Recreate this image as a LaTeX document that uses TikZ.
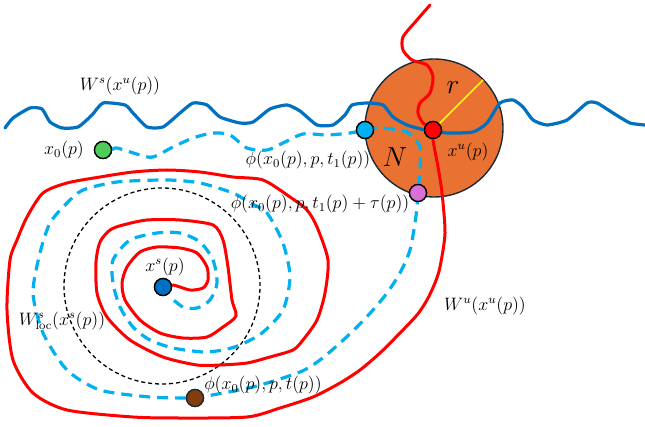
\documentclass[tikz,border=0pt]{standalone}
\usepackage{graphicx}
\usetikzlibrary{calc}
\definecolor{wblue}{HTML}{0070C0}
\definecolor{wcyan}{HTML}{00B0F0}
\definecolor{wred}{HTML}{FF0000}
\definecolor{worange}{HTML}{E97132}
\definecolor{wgreen}{HTML}{4FCB5B}
\definecolor{wpink}{HTML}{DA70D6}
\definecolor{wbrown}{HTML}{843C0C}
\definecolor{wyellow}{HTML}{FFFF00}
\definecolor{wnavy}{HTML}{1B2A38}
\newcommand\mylb[1]{\scalebox{1.5}{$#1$}}
\newcommand\mybig[1]{\scalebox{2.3}{$#1$}}
\begin{document}
\begin{tikzpicture}[x=1pt,y=-1pt,
  dot/.style={circle,draw=black,line width=1.3pt,minimum size=17pt,inner sep=0pt},
  redline/.style={draw=wred,line width=3pt,line join=round,line cap=round},
  blueline/.style={draw=wblue,line width=3.2pt,line join=round,line cap=round},
  traj/.style={draw=wcyan,line width=3.2pt,dash pattern=on 11pt off 7pt},
  lbl/.style={font=\fontsize{12}{14}\selectfont,inner sep=0pt}]
\useasboundingbox (0,0) rectangle (645,427);
% neighbourhood N
\node[circle,fill=worange,draw=wnavy,line width=1.4pt,minimum size=138pt,inner sep=0pt] (N) at (434,128) {};
% local stable manifold circle
\node[circle,draw=black,line width=1.3pt,dash pattern=on 4pt off 3pt,minimum size=196pt,inner sep=0pt] (loc) at (162,286) {};
% dots
\node[dot,fill=wgreen] (x0) at (103,150) {};
\node[dot,fill=wblue] (xs) at (163,287) {};
\node[dot,fill=wcyan] (p1) at (365,130) {};
\node[dot,fill=wred] (xu) at (433,130) {};
\node[dot,fill=wpink] (p2) at (418,193) {};
\node[dot,fill=wbrown,draw=wnavy] (p3) at (195,398) {};
% unstable manifold (red spiral)
\path[redline] plot[smooth,tension=0.45] coordinates {
 (430,5) (417,20) (403,37) (403,50) (412,60) (427,65) (433,77) (430,93) (420,103) (418,113) (423,123) (xu.center)
 (433,140) (438,167) (442,193) (445,233) (440,267) (435,283) (427,300) (417,315) (400,333) (380,353) (360,370) (340,383) (313,397) (280,408) (247,417) (180,418) (133,417) (67,410) (33,393) (13,360) (7,310) (10,260) (17,240) (27,217) (43,193) (67,183) (100,177) (133,172) (167,170) (200,172) (233,177) (263,180) (290,197) (307,210) (317,227) (328,260) (325,293) (317,320) (303,340) (293,350) (270,357) (247,363) (220,365) (197,365) (163,357) (130,340) (107,317) (97,293) (96,262) (100,242) (110,230) (123,225) (147,220) (180,220) (213,225) (223,240) (228,267) (232,300) (236,316) (223,327) (207,337) (183,338) (160,333) (140,320) (125,300) (122,283) (127,267) (140,252) (157,247) (180,248) (197,253) (207,267) (208,280) (203,288) (190,290) (173,285) (xs.center)};
% trajectory (dashed cyan)
\path[traj] plot[smooth,tension=0.45] coordinates {
 (x0.east) (117,148) (140,155) (153,157) (173,147) (193,138) (213,133) (230,135) (247,148) (267,150) (283,143) (303,134) (327,135) (350,133) (p1.center)
 (380,128) (407,132) (420,147) (420,167) (p2.center)
 (417,207) (415,223) (410,250) (400,273) (387,293) (373,310) (357,327) (340,343) (320,360) (300,372) (253,387) (p3.center)
 (187,398) (150,397) (100,390) (67,370) (43,333) (33,293) (40,253) (50,223) (67,203) (83,190) (117,182) (167,180) (200,183) (233,193) (250,203) (267,213) (283,243) (290,277) (283,310) (262,333) (240,345) (223,350) (203,352) (173,348) (150,340) (133,327) (120,307) (113,283) (113,260) (130,240) (157,233) (180,233) (200,242) (213,260) (217,283) (210,300) (197,308) (183,307) (170,297)};
% stable manifold (blue wavy)
\path[blueline] plot[smooth,tension=0.35] coordinates {
 (5,128) (13,118) (30,108) (42,109) (50,122) (62,128) (78,127) (92,115) (103,103) (125,105) (133,113) (147,127) (163,127) (180,113) (193,103) (207,105) (220,117) (240,123) (253,122) (270,109) (287,105) (300,111) (317,125) (333,125) (345,115) (352,105) (367,103) (383,105) (393,117) (407,125) (425,130) (xu.center) (447,133) (473,132) (487,123) (500,103) (513,100) (523,107) (533,120) (547,125) (567,120) (587,103) (597,103) (613,113) (630,123) (645,125)};
% radius
\coordinate (rend) at (483,80);
\draw[wyellow,line width=1.5pt] (xu.center) -- (rend);
% redraw dots on top
\foreach \n/\c/\d in {x0/wgreen/black, xs/wblue/black, p1/wcyan/black, xu/wred/black, p2/wpink/black, p3/wbrown/wnavy}
  {\fill[\c] (\n.center) circle (8.5pt);
   \draw[\d,line width=1.3pt] (\n.center) circle (8.5pt);}
% labels
\node[lbl] (lWs) at (120,86) {\mylb{W^{s}\bigl(x^{u}(p)\bigr)}};
\node[lbl] (lx0) at (64,150) {\mylb{x_0(p)}};
\node[lbl] (lp1) at (308,160) {\mylb{\phi\bigl(x_0(p),p,t_1(p)\bigr)}};
\node[lbl] (lp2) at (320,204) {\mylb{\phi\bigl(x_0(p),p,t_1(p)+\tau(p)\bigr)}};
\node[lbl] (lxu) at (468,152) {\mylb{x^{u}(p)}};
\node[lbl] (lN) at (395,157) {\mybig{N}};
\node[lbl] (lr) at (453,88) {\mybig{r}};
\node[lbl] (lWu) at (485,306) {\mylb{W^{u}\bigl(x^{u}(p)\bigr)}};
\node[lbl] (lxs) at (165,267) {\mylb{x^{s}(p)}};
\node[lbl] (lWl) at (62,321) {\mylb{W^{s}_{\mathrm{loc}}\bigl(x^{s}(p)\bigr)}};
\node[lbl] (lp3) at (263,385) {\mylb{\phi\bigl(x_0(p),p,t(p)\bigr)}};
\end{tikzpicture}
\end{document}
